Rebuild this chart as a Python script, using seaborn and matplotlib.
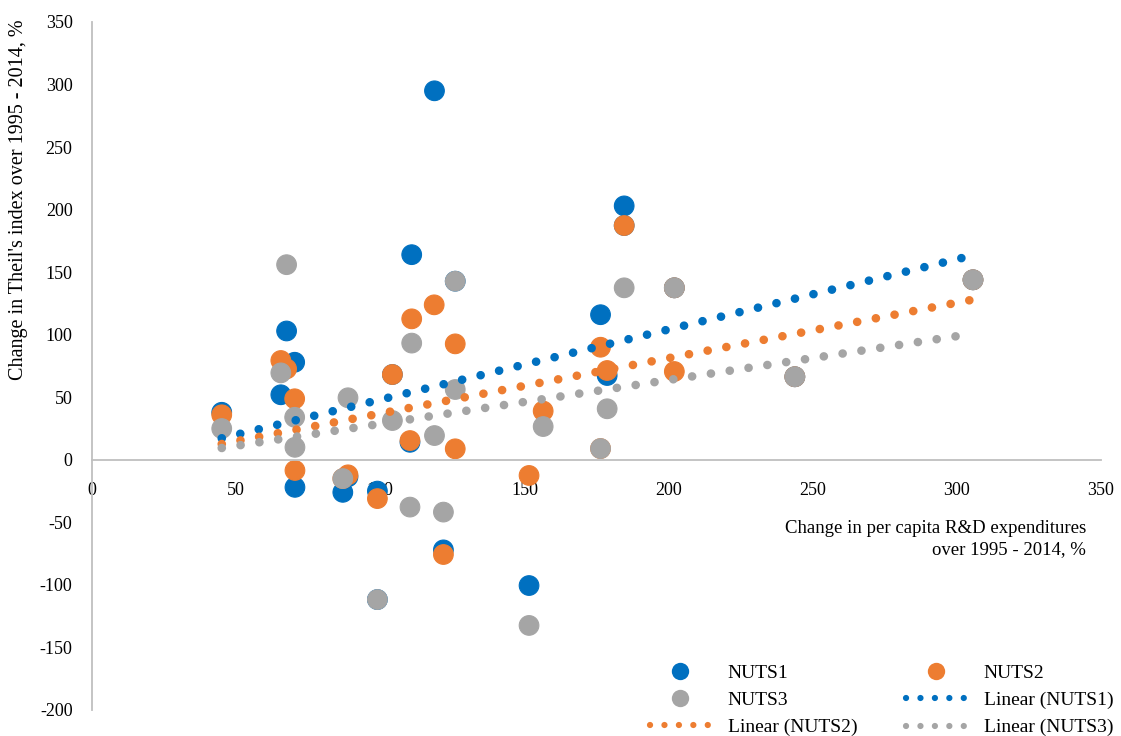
import matplotlib
matplotlib.use("Agg")
import matplotlib.pyplot as plt
from matplotlib.lines import Line2D
import numpy as np
import pandas as pd
import seaborn as sns

# ---- data ----
nuts1_x = [45, 65.5, 67.5, 70.3, 70.4, 87, 88.8, 99, 99, 104.2, 110.9, 110.3, 118.8, 121.9, 126,
           151.6, 176.4, 178.7, 184.6, 184.6, 202, 243.8, 305.6]
nuts1_y = [38, 52, 103, 78, -22, -26, -13.6, -25, -111.7, 68.2, 164, 14, 295, -72, 142.8,
           -100.5, 116, 67.4, 203, 187.3, 137.5, 66.4, 143.9]

nuts2_x = [45, 65.5, 67.5, 70.3, 70.4, 87, 88.8, 99, 104.2, 110.9, 110.3, 118.7, 121.9, 126, 126,
           151.6, 156.5, 176.4, 176.4, 178.7, 184.6, 202, 202, 243.8, 305.6]
nuts2_y = [36, 79.4, 72.7, 48.8, -8.5, -15, -12, -31, 68.2, 112.7, 15.4, 123.9, -75.7, 92.7, 8.8,
           -12.5, 39, 90, 9, 71.4, 187.3, 70.6, 137.5, 66.4, 143.9]

nuts3_x = [45, 65.5, 67.5, 70.3, 70.4, 87, 88.8, 99, 104.2, 110.9, 110.3, 118.8, 121.9, 126, 126,
           151.6, 156.5, 176.4, 178.7, 184.6, 202, 243.8, 305.6]
nuts3_y = [25, 69.5, 156, 34, 10, -15, 49.6, -111.7, 31.4, 93.3, -37.8, 19.4, -41.8, 142.8, 56.2,
           -132.4, 26.6, 9, 40.8, 137.5, 137.5, 66.4, 143.9]

levels = ["NUTS1", "NUTS2", "NUTS3"]
colors = ["#0070C0", "#ED7D31", "#A5A5A5"]
x_ticks = [0, 50, 100, 150, 200, 250, 300, 350]
y_ticks = [-200, -150, -100, -50, 0, 50, 100, 150, 200, 250, 300, 350]

df = pd.concat([
    pd.DataFrame({"x": nuts1_x, "y": nuts1_y, "level": "NUTS1"}),
    pd.DataFrame({"x": nuts2_x, "y": nuts2_y, "level": "NUTS2"}),
    pd.DataFrame({"x": nuts3_x, "y": nuts3_y, "level": "NUTS3"}),
], ignore_index=True)

sns.set_theme(style="white")
plt.rcParams["font.family"] = ["Liberation Serif", "DejaVu Serif"]
plt.rcParams["text.color"] = "black"
plt.rcParams["axes.unicode_minus"] = False

fig = plt.figure(figsize=(11.21, 7.36), dpi=100)
ax = fig.add_axes([92 / 1121, 1 - 710 / 736, 1009 / 1121, 688 / 736])

pal = dict(zip(levels, colors))
sns.scatterplot(data=df, x="x", y="y", hue="level", palette=pal, s=200,
                linewidth=0.8, edgecolor="face", alpha=1, legend=False, ax=ax, zorder=2)

dot_ls = (0, (0.01, 2.2))
for lev, col in zip(levels, colors):
    sub = df[df.level == lev]
    sns.regplot(data=sub, x="x", y="y", scatter=False, ci=None, truncate=True, ax=ax,
                color=col, line_kws=dict(lw=6.2, ls=dot_ls, dash_capstyle="round", zorder=3))

ax.set_xlim(0, 350)
ax.set_ylim(-200, 350)
ax.set_xticks(x_ticks)
ax.set_yticks(y_ticks)
ax.set_xlabel("")
ax.set_ylabel("")
ax.tick_params(axis="both", length=0, labelsize=13, colors="black")
ax.tick_params(axis="y", pad=14)
ax.tick_params(axis="x", pad=16)

for s in ["top", "right"]:
    ax.spines[s].set_visible(False)
ax.spines["bottom"].set_position(("data", 0))
ax.spines["bottom"].set_color("#BFBFBF")
ax.spines["left"].set_color("#BFBFBF")
ax.spines["bottom"].set_linewidth(1.3)
ax.spines["left"].set_linewidth(1.3)

fig.text(1086 / 1121, 1 - 539 / 736,
         "Change in per capita R&D expenditures\nover 1995 - 2014, %",
         ha="right", va="center", multialignment="right", fontsize=13.5, linespacing=1.35)
fig.text(19 / 1121, 1 - 200 / 736, "Change in Theil's index over 1995 - 2014, %",
         rotation=90, ha="center", va="center", fontsize=14.5)

def mk(c):
    return Line2D([], [], ls="none", marker="o", markersize=12.5, color=c, markeredgewidth=0)

def ln(c):
    return Line2D([], [], lw=4.5, ls=(0, (0.01, 2.3)), dash_capstyle="round", color=c)

handles = [mk(colors[0]), mk(colors[2]), ln(colors[1]), mk(colors[1]), ln(colors[0]), ln(colors[2])]
labels = ["NUTS1", "NUTS3", "Linear (NUTS2)", "NUTS2", "Linear (NUTS1)", "Linear (NUTS3)"]
fig.legend(handles, labels, ncol=2, loc="upper left",
           bbox_to_anchor=(650 / 1121, 1 - 664 / 736), frameon=False, fontsize=14,
           handlelength=3.1, handletextpad=0.9, columnspacing=2.5, labelspacing=0.5,
           borderpad=0, borderaxespad=0)

fig.savefig("out.png", dpi=100)
